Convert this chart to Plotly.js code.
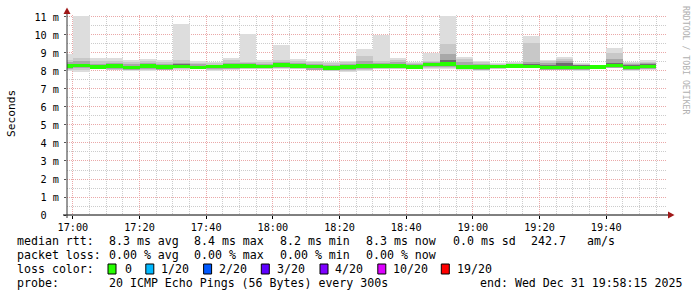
<!DOCTYPE html>
<html><head><meta charset="utf-8">
<script src="https://cdn.plot.ly/plotly-3.0.1.min.js"></script>
<style>html,body{margin:0;padding:0;background:#fff}#chart{width:697px;height:297px}</style>
</head><body><div id="chart"></div>
<script>
// ---- data (ms) : one value per 5-minute step, labelled by step end time ----
const stepEnd = ['17:00','17:05','17:10','17:15','17:20','17:25','17:30','17:35','17:40','17:45','17:50','17:55',
                 '18:00','18:05','18:10','18:15','18:20','18:25','18:30','18:35','18:40','18:45','18:50','18:55',
                 '19:00','19:05','19:10','19:15','19:20','19:25','19:30','19:35','19:40','19:45','19:50','19:55'];
const median = [8.27,8.30,8.21,8.28,8.19,8.28,8.23,8.26,8.19,8.25,8.27,8.27,8.24,8.33,8.29,8.25,8.18,8.21,8.28,8.29,8.29,8.21,8.35,8.38,8.23,8.21,8.24,8.27,8.26,8.20,8.20,8.20,8.22,8.30,8.20,8.26];
const pingMax = [8.96,11.06,8.74,8.74,8.63,8.65,8.60,10.63,8.55,8.50,8.72,10.07,8.61,9.43,8.68,8.55,8.50,8.55,9.24,9.98,8.72,8.50,8.98,11.05,8.78,8.55,8.45,8.50,9.94,8.60,8.78,8.45,8.35,9.30,8.50,8.60];
const pingHi2 = [8.62,8.74,8.55,8.55,8.52,8.55,8.50,8.60,8.45,8.42,8.62,8.52,8.50,8.62,8.55,8.48,8.42,8.48,8.83,8.55,8.62,8.45,8.55,9.50,8.65,8.50,8.40,8.45,9.54,8.55,8.68,8.40,8.33,8.98,8.45,8.50];
const pingHi3 = [8.48,8.55,8.40,8.42,8.40,8.45,8.40,8.45,8.38,8.36,8.45,8.42,8.40,8.50,8.44,8.40,8.32,8.38,8.55,8.45,8.50,8.40,8.48,8.93,8.50,8.40,8.36,8.40,8.50,8.45,8.55,8.36,8.30,8.65,8.38,8.45];
const pingHi4 = [8.38,8.40,8.30,8.36,8.30,8.38,8.32,8.38,8.30,8.32,8.38,8.36,8.33,8.42,8.38,8.33,8.26,8.30,8.40,8.38,8.40,8.33,8.42,8.60,8.36,8.32,8.32,8.34,8.40,8.35,8.42,8.32,8.28,8.45,8.33,8.38];
const pingLo4 = [8.18,8.20,8.14,8.18,8.10,8.20,8.13,8.18,8.14,8.18,8.17,8.18,8.16,8.25,8.20,8.14,8.10,8.12,8.18,8.22,8.20,8.15,8.28,8.28,8.16,8.12,8.18,8.22,8.20,8.12,8.12,8.10,8.16,8.22,8.12,8.18];
const pingLo3 = [8.12,8.15,8.12,8.12,8.06,8.12,8.08,8.14,8.12,8.12,8.12,8.14,8.14,8.18,8.15,8.08,8.04,8.05,8.10,8.16,8.15,8.14,8.20,8.20,8.12,8.06,8.14,8.20,8.16,8.08,8.08,8.06,8.12,8.18,8.06,8.12];
const pingLo2 = [8.06,8.04,8.11,8.08,8.03,8.06,8.06,8.11,8.11,8.06,8.10,8.13,8.13,8.14,8.13,8.06,8.01,7.98,8.06,8.13,8.12,8.13,8.15,8.15,8.10,8.03,8.13,8.19,8.15,8.07,8.07,8.04,8.11,8.16,8.03,8.10];
const pingMin = [8.00,7.96,8.10,8.05,8.00,8.02,8.04,8.08,8.10,8.00,8.08,8.12,8.12,8.10,8.12,8.04,7.98,7.92,8.02,8.10,8.10,8.12,8.10,8.10,8.08,8.00,8.12,8.18,8.14,8.06,8.06,8.02,8.10,8.14,8.00,8.08];

const yTickVals = [0,1,2,3,4,5,6,7,8,9,10,11];
const yTickText = ['0\u00a0\u00a0','1\u00a0m','2\u00a0m','3\u00a0m','4\u00a0m','5\u00a0m','6\u00a0m','7\u00a0m','8\u00a0m','9\u00a0m','10\u00a0m','11\u00a0m'];

const rttStats  = ['8.3 ms avg','8.4 ms max','8.2 ms min','8.3 ms now','0.0 ms sd','242.7','am/s'];
const lossStats = ['0.00 % avg','0.00 % max','0.00 % min','0.00 % now'];
const lossLabels = ['0','1/20','2/20','3/20','4/20','10/20','19/20'];
const lossColors = ['#26ff00','#00b8ff','#0059ff','#5e00ff','#7e00ff','#dd00ff','#ff0000'];
const probeText = '20 ICMP Echo Pings (56 Bytes) every 300s';
const endText = 'end: Wed Dec 31 19:58:15 2025';

// ---- layout geometry / styles ----
const L=67, T=15, PW=600, PH=200;
const px2x = p => (p-L)/PW, py2y = p => (T+PH-p)/PH;
const MONO = 'DejaVu Sans Mono';
const MGRID = '#eaa8a8', GRID = '#cccccc';
const bandHalf = 0.1;
const STEP = 300000;

const xc = stepEnd.map(t => { const [h,m]=t.split(':').map(Number); return Date.UTC(2025,11,31,h,m) - STEP/2; });

function layer(lo, hi, color){
  return {type:'bar', x:xc, base:lo, y:hi.map((v,i)=>v-lo[i]), width:STEP,
    marker:{color:color, line:{width:0}}, hoverinfo:'skip', showlegend:false};
}
const traces = [
  layer(pingMin, pingMax, '#dddddd'),
  layer(pingLo2, pingHi2, '#c8c8c8'),
  layer(pingLo3, pingHi3, '#a8a8a8'),
  layer(pingLo4, pingHi4, '#6e6e6e'),
  layer(median.map(v=>v-bandHalf), median.map(v=>v+bandHalf), lossColors[0])
];

const annotations = [];
function txt(s, px, py, size, extra){
  annotations.push(Object.assign({text:s, xref:'paper', yref:'paper', x:px2x(px), y:py2y(py),
    xanchor:'left', yanchor:'middle', showarrow:false, borderpad:0,
    font:{family:MONO, size:size||11.6, color:'#000'}}, extra||{}));
}
const rowY = [241, 255, 269, 283];
txt('median rtt:', 16, rowY[0]);
const rttX = [107.6, 192.9, 279.1, 365.3, 451.6, 530.2, 585.8];
rttStats.forEach((s,i)=>txt(s, rttX[i], rowY[0]));
txt('packet loss:', 16, rowY[1]);
const lossX = [107.6, 192.9, 279.1, 365.3];
lossStats.forEach((s,i)=>txt(s, lossX[i], rowY[1]));
txt('loss color:', 16, rowY[2]);
const boxX = [108, 145.8, 203.6, 261.3, 320, 377.8, 441.3];
const labX = [123.6, 160, 217.8, 275.6, 334.2, 392, 456.4];
lossLabels.forEach((s,i)=>txt(s, labX[i], rowY[2]));
txt('probe:', 16, rowY[3]);
txt(probeText, 107.6, rowY[3]);
txt(endText, 478.7, rowY[3]);
annotations.push({text:'Seconds', xref:'paper', yref:'paper', x:px2x(11), y:py2y(114), textangle:-90,
  xanchor:'center', yanchor:'middle', showarrow:false, font:{family:MONO, size:11.2, color:'#000'}});
annotations.push({text:'RRDTOOL / TOBI OETIKER', xref:'paper', yref:'paper', x:px2x(686), y:py2y(60), textangle:90,
  xanchor:'center', yanchor:'middle', showarrow:false, font:{family:MONO, size:8.2, color:'#b0b0b0'}});

const shapes = [];
lossColors.forEach((c,i)=>shapes.push({type:'rect', xref:'paper', yref:'paper',
  x0:px2x(boxX[i]), x1:px2x(boxX[i]+8), y0:py2y(264), y1:py2y(274), fillcolor:c, line:{color:'#000', width:1}}));
// axes lines and arrows
shapes.push({type:'line', xref:'paper', yref:'paper', x0:px2x(63), x1:px2x(669), y0:0, y1:0, line:{color:'#000', width:1}});
shapes.push({type:'line', xref:'paper', yref:'paper', x0:0, x1:0, y0:py2y(218), y1:py2y(12), line:{color:'#333', width:1}});
shapes.push({type:'path', xref:'paper', yref:'paper', fillcolor:'#a01818', line:{width:0},
  path:`M ${px2x(668)} ${py2y(211.5)} L ${px2x(674.5)} ${py2y(215)} L ${px2x(668)} ${py2y(218.5)} Z`});
shapes.push({type:'path', xref:'paper', yref:'paper', fillcolor:'#a01818', line:{width:0},
  path:`M ${px2x(63.5)} ${py2y(14)} L ${px2x(67)} ${py2y(7.5)} L ${px2x(70.5)} ${py2y(14)} Z`});

const layout = {
  width:697, height:297, margin:{l:L, r:30, t:T, b:82, pad:0},
  paper_bgcolor:'#fff', plot_bgcolor:'#fff', barmode:'overlay', bargap:0, showlegend:false,
  xaxis:{type:'date', range:['2025-12-31 16:58:15','2025-12-31 19:58:15'],
    tick0:'2025-12-31 17:00', dtick:1200000, tickformat:'%H:%M',
    showgrid:true, gridcolor:MGRID, griddash:'1px,1px', gridwidth:1,
    minor:{tick0:'2025-12-31 17:00', dtick:STEP, showgrid:true, gridcolor:GRID, griddash:'1px,1px', ticks:''},
    ticks:'outside', ticklen:3, tickcolor:'#000', showline:false, zeroline:false,
    tickfont:{family:MONO, size:10.2, color:'#000'}, fixedrange:true},
  yaxis:{range:[0, 11.11], tickmode:'array', tickvals:yTickVals, ticktext:yTickText,
    showgrid:true, gridcolor:MGRID, griddash:'1px,1px', gridwidth:1,
    minor:{tick0:0, dtick:0.5, showgrid:true, gridcolor:GRID, griddash:'1px,1px', ticks:''},
    ticks:'outside', ticklen:2, tickcolor:'#555', showline:false, zeroline:false,
    ticklabelstandoff:3,
    tickfont:{family:MONO, size:10.2, color:'#000'}, fixedrange:true},
  annotations:annotations, shapes:shapes
};
Plotly.newPlot('chart', traces, layout, {staticPlot:true, displayModeBar:false});
</script></body></html>
